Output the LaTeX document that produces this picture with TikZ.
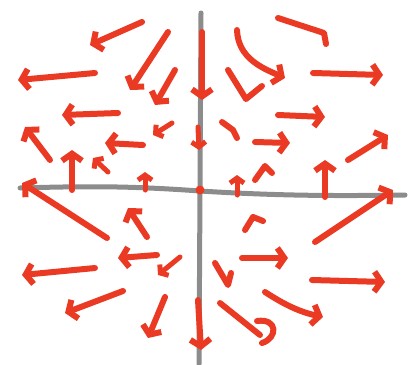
\documentclass[tikz,border=0pt]{standalone}
\usepackage{tikz}
\usetikzlibrary{arrows.meta}

\definecolor{penred}{RGB}{234,58,36}
\definecolor{pengray}{RGB}{140,140,140}

\begin{document}
\begin{tikzpicture}[
  x=1pt, y=-1pt,
  axis/.style={draw=pengray, line width=5pt, line cap=round},
  stroke/.style={draw=penred, line width=6pt, line cap=round, line join=round},
  vec/.style={stroke, -{Straight Barb[length=7pt, width=20pt]}},
  tinyvec/.style={stroke, line width=5pt, -{Straight Barb[length=5pt, width=14pt]}}
]
  \useasboundingbox (0,0) rectangle (417,364);

  % axes
  \draw[axis] (201,13) -- (199,364);
  \draw[axis] (20,188) .. controls (90,186) and (130,186) .. (200,191)
              .. controls (280,196) and (340,196) .. (405,195);
  \fill[penred] (200,190) circle (4.5);

  % field on the vertical axis
  \draw[vec] (202,32) -- (202,100);
  \draw[tinyvec] (198,127) -- (199,150);
  \draw[vec] (198,300) -- (201,350);

  % upper left
  \draw[vec] (142,22) -- (90,45);
  \draw[vec] (95,73) -- (18,80);
  \draw[vec] (168,32) -- (130,90);
  \draw[vec] (175,70) -- (155,105);
  \draw[vec] (118,113) -- (62,115);
  \draw[tinyvec] (172,123) -- (153,135);
  \draw[vec] (143,145) -- (105,143);
  \draw[vec] (50,160) -- (25,127);
  \draw[vec] (72,190) -- (72,150);
  \draw[tinyvec] (108,172) -- (93,158);
  \draw[tinyvec] (145,190) -- (145,172);

  % upper right
  \draw[stroke] (278,18) -- (324,33) -- (326,44);
  \draw[vec] (237,30) .. controls (238,58) and (262,68) .. (285,78);
  \draw[stroke] (228,70) -- (246,99) -- (262,86);
  \draw[vec] (313,73) -- (383,75);
  \draw[vec] (278,115) -- (325,117);
  \draw[stroke] (222,122) -- (233,130) -- (237,138);
  \draw[vec] (255,142) -- (290,143);
  \draw[vec] (348,160) -- (388,135);
  \draw[vec] (325,197) -- (325,160);
  \draw[tinyvec] (237,195) -- (237,175);
  \draw[stroke] (255,180) -- (265,166) -- (272,173);

  % lower right
  \draw[vec] (315,242) -- (393,190);
  \draw[stroke] (245,230) -- (253,217) -- (263,221);
  \draw[vec] (242,258) -- (288,258);
  \draw[vec] (312,280) -- (385,282);
  \draw[stroke] (215,263) -- (228,285) -- (231,273);
  \draw[vec] (265,292) .. controls (285,305) and (300,312) .. (323,317);
  \draw[stroke] (220,303) -- (260,335);
  \draw[stroke] (257,321) .. controls (278,318) and (278,338) .. (262,343);

  % lower left
  \draw[vec] (107,238) -- (22,183);
  \draw[vec] (147,237) -- (128,208);
  \draw[vec] (157,255) -- (118,258);
  \draw[vec] (95,268) -- (22,275);
  \draw[tinyvec] (180,257) -- (158,275);
  \draw[vec] (123,291) -- (65,313);
  \draw[vec] (165,297) -- (148,338);
\end{tikzpicture}
\end{document}
